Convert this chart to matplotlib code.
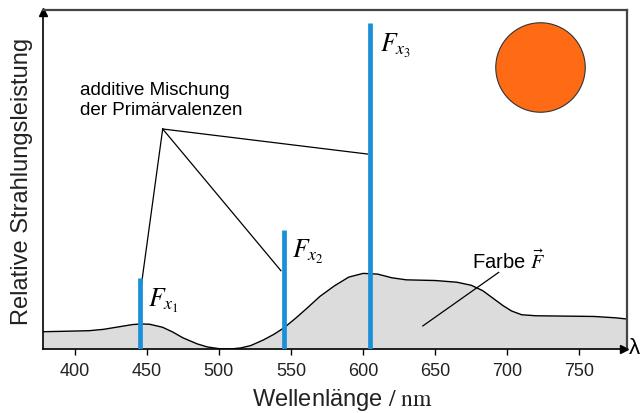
import numpy as np
import matplotlib.pyplot as plt

plt.rcParams['font.family'] = ['Liberation Sans', 'DejaVu Sans']
plt.rcParams['mathtext.fontset'] = 'stix'

# spectrum of the colour F
wl = [378, 390, 400, 410, 420, 430, 440, 446, 452, 461, 468, 475, 485, 492,
      500, 508, 515, 522, 531, 538, 545, 553, 561, 570, 580, 590, 600, 610,
      620, 630, 650, 665, 675, 683, 690, 697, 703, 710, 720, 740, 760, 775, 784]
power = [0.051, 0.052, 0.053, 0.054, 0.058, 0.065, 0.072, 0.074, 0.073, 0.064,
         0.050, 0.033, 0.015, 0.006, 0.001, 0.000, 0.003, 0.010, 0.027, 0.043,
         0.062, 0.090, 0.120, 0.155, 0.186, 0.212, 0.223, 0.221, 0.210, 0.204,
         0.202, 0.197, 0.188, 0.172, 0.150, 0.128, 0.112, 0.101, 0.098, 0.097,
         0.096, 0.092, 0.088]

# primaries
prim_wl = [445, 545, 605]
prim_h = [0.209, 0.351, 0.962]
prim_labels = [r'$F_{x_1}$', r'$F_{x_2}$', r'$F_{x_3}$']

xticks = [400, 450, 500, 550, 600, 650, 700, 750]

fig = plt.figure(figsize=(6.4, 4.13), dpi=100)
ax = fig.add_axes([43/640, 64/413, 584/640, 339/413])

ax.fill_between(wl, power, 0, color='#dcdcdc', lw=0)
ax.plot(wl, power, color='black', lw=1.0)

ax.vlines(prim_wl, 0, prim_h, color='#1b8fd8', lw=3.4, zorder=3)
lab_pos = [(450.9, 0.184), (550.5, 0.327), (611.8, 0.935)]
for (x, y), s in zip(lab_pos, prim_labels):
    ax.text(x, y, s, fontsize=18.5, ha='left', va='top')

# annotation lines
ax.text(404, 0.732, 'additive Mischung\nder Primärvalenzen', fontsize=13.5,
        ha='left', va='center', linespacing=1.22)
hub = (461, 0.649)
for ex, ey in [(445.1, 0.154), (543, 0.231), (603.2, 0.575)]:
    ax.plot([hub[0], ex], [hub[1], ey], color='black', lw=0.9)

ax.text(675.5, 0.258, r'Farbe $\vec{F}$', fontsize=14.5, ha='left', va='center')
ax.plot([694, 641.4], [0.226, 0.068], color='black', lw=0.9)

# colour swatch
ax.scatter([722.9], [0.832], s=4150, color='#ff6a14', edgecolors='#333333',
           linewidths=0.8, zorder=4)

ax.set_xlim(378, 783)
ax.set_ylim(0, 1)
ax.set_xticks(xticks)
ax.set_yticks([])
ax.tick_params(axis='x', direction='out', length=4, width=1, labelsize=13,
               pad=6, colors='black', labelcolor='#222222')

for s in ['top', 'right']:
    ax.spines[s].set_color('#444444')
    ax.spines[s].set_linewidth(1.6)
for s in ['left', 'bottom']:
    ax.spines[s].set_color('black')
    ax.spines[s].set_linewidth(1.2)

ax.plot(0, 0.995, '^k', markersize=6, transform=ax.transAxes, clip_on=False)
ax.plot(0.995, 0, '>k', markersize=6, transform=ax.transAxes, clip_on=False)
ax.text(1.003, 0, 'λ', fontsize=16, transform=ax.transAxes, ha='left',
        va='center')

fig.text(342/640, 1 - 400/413, r'Wellenlänge $/\ \mathrm{nm}$', fontsize=17,
         color='#222222', ha='center', va='center')
fig.text(22/640, 1 - 181/413, 'Relative Strahlungsleistung', fontsize=17,
         color='#222222', ha='center', va='center', rotation=90)

fig.savefig('out.png', dpi=100)
